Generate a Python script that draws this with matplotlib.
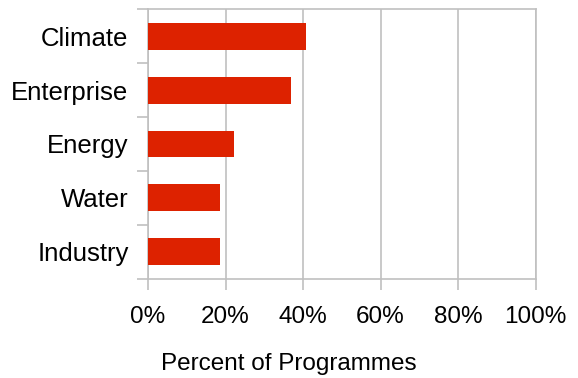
import matplotlib
matplotlib.use("Agg")
import matplotlib.pyplot as plt
import numpy as np
from matplotlib.ticker import FixedLocator, NullFormatter

categories = ["Climate", "Enterprise", "Energy", "Water", "Industry"]
percent = [40.7, 37.0, 22.2, 18.5, 18.5]
x_ticks = [0, 20, 40, 60, 80, 100]
x_tick_labels = ["0%", "20%", "40%", "60%", "80%", "100%"]

plt.rcParams["font.family"] = ["Liberation Sans", "DejaVu Sans"]

fig = plt.figure(figsize=(5.78, 3.78), dpi=100)
ax = fig.add_axes([148 / 578, 1 - 278.7 / 378, (535.7 - 148) / 578, (278.7 - 9.3) / 378])

grid_col = "#c0c0c0"
bar_col = "#dd2200"

y = np.arange(len(categories))
ax.barh(y, percent, height=0.5, color=bar_col, zorder=3)
ax.set_ylim(len(categories) - 0.5, -0.5)
ax.set_xlim(0, 100)

ax.set_xticks(x_ticks)
ax.set_xticklabels(x_tick_labels, fontsize=17.5)
ax.set_yticks(y)
ax.set_yticklabels(categories, fontsize=18.5)
ax.yaxis.set_minor_locator(FixedLocator(np.arange(-0.5, len(categories), 1.0)))
ax.yaxis.set_minor_formatter(NullFormatter())

ax.tick_params(axis="y", which="major", length=0, pad=14)
ax.tick_params(axis="y", which="minor", length=8, width=1.2, color=grid_col)
ax.tick_params(axis="x", which="major", length=8, width=1.2, color=grid_col, pad=12)

ax.grid(axis="x", color=grid_col, linewidth=1.2, zorder=0)
for s in ax.spines.values():
    s.set_color(grid_col)
    s.set_linewidth(1.2)

fig.text(288.5 / 578, 1 - 364 / 378, "Percent of Programmes", fontsize=17.5,
         ha="center", va="center")

fig.savefig("out.png", dpi=100)
